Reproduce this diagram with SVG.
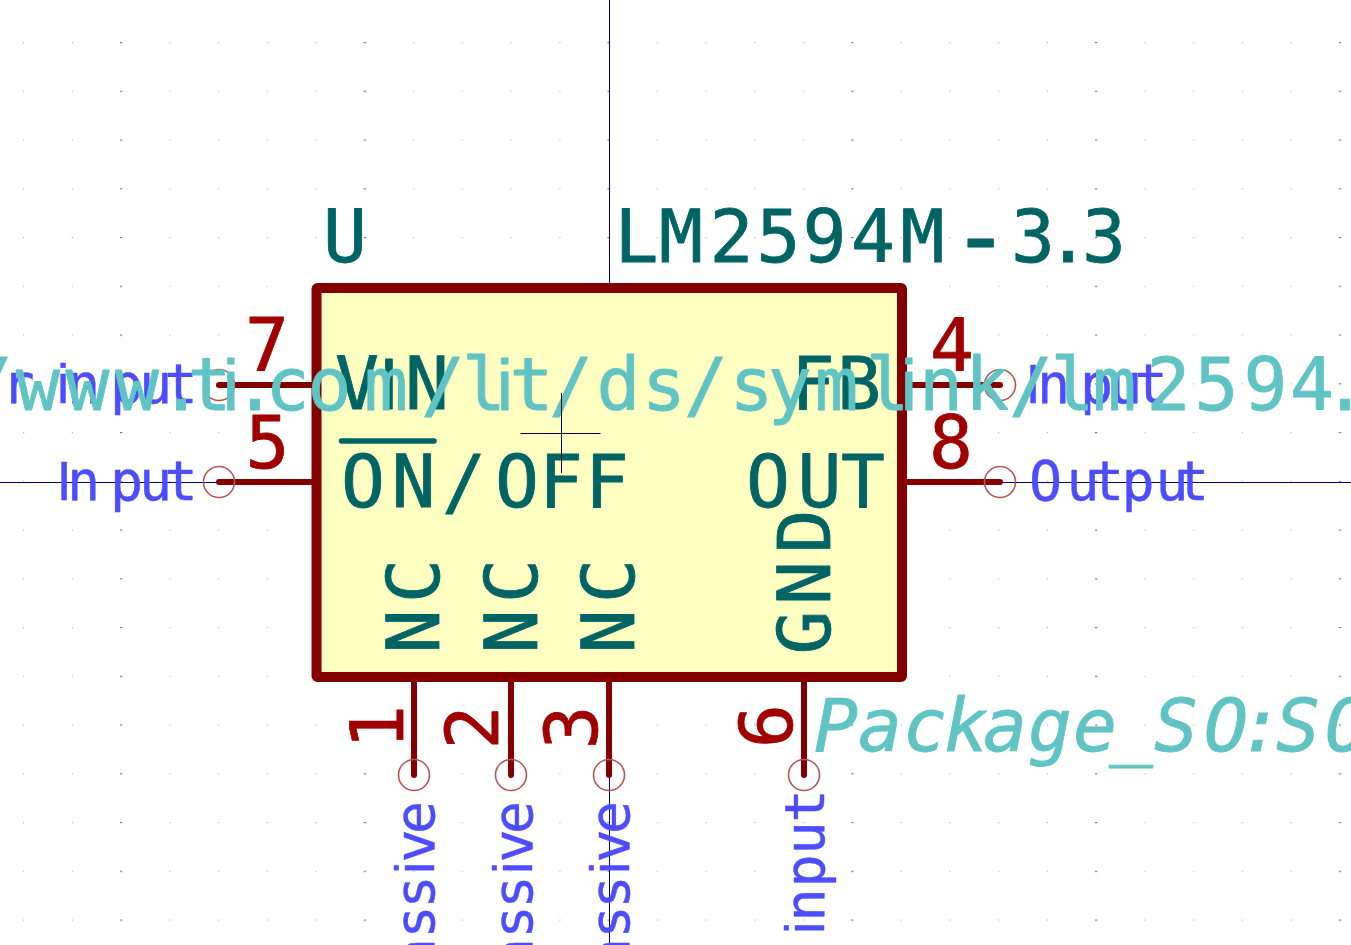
<svg xmlns="http://www.w3.org/2000/svg" width="1351" height="945" viewBox="0 0 1351 945">
<style>
text{font-family:"DejaVu Sans Mono","Liberation Mono",monospace;stroke-linejoin:round;paint-order:stroke}
.ref,.pn{fill:#006464;stroke:#006464;stroke-width:.8;font-size:73px}
.num{fill:#A00000;stroke:#A00000;stroke-width:.8;font-size:73px}
.typ{fill:#4D4DFF;stroke:#4D4DFF;stroke-width:.4;font-size:55px}
.fld{fill:#60C4C4;stroke:#60C4C4;stroke-width:.8;font-size:73px}
.s{font-family:"Liberation Sans",sans-serif}
.pin{stroke:#840000;stroke-width:6;stroke-linecap:round;fill:none}
.end{stroke:#B25458;stroke-width:1.6;fill:none}
.axis{stroke:#000084;stroke-width:1;fill:none}
.cross{stroke:#000;stroke-width:1;fill:none}
</style>
<defs>
<pattern id="grid" patternUnits="userSpaceOnUse" x="23" y="42" width="243.75" height="48.75">
<rect x="0" y="0" width="1.2" height="1.2" fill="#bbb"/>
<rect x="48.75" y="0" width="1.2" height="1.2" fill="#bbb"/>
<rect x="97" y="0" width="2.2" height="1.2" fill="#777"/>
<rect x="146.25" y="0" width="1.2" height="1.2" fill="#bbb"/>
<rect x="195" y="0" width="1.2" height="1.2" fill="#bbb"/>
</pattern>
</defs>
<rect id="background" width="1351" height="945" fill="#fff"/>
<rect id="grid-dots" width="1351" height="945" fill="url(#grid)"/>
<g id="axes">
<path class="axis" d="M609.5 0V945M0 482.5H1351"/>
</g>
<g id="U1-body">
<rect x="316.5" y="288" width="585.5" height="389" rx="1" fill="#FFFFC2" stroke="#840000" stroke-width="10" stroke-linejoin="round"/>
</g>
<g id="connectors">
<path class="pin" d="M316 385H219"/>
<path class="pin" d="M316 482H219"/>
<path class="pin" d="M902 385H1000"/>
<path class="pin" d="M902 482H1000"/>
<path class="pin" d="M414 677V775"/>
<path class="pin" d="M511 677V775"/>
<path class="pin" d="M609 677V775"/>
<path class="pin" d="M804 677V775"/>
<circle class="end" cx="219" cy="385" r="15.5"/>
<circle class="end" cx="219" cy="482" r="15.5"/>
<circle class="end" cx="1000" cy="385" r="15.5"/>
<circle class="end" cx="1000" cy="482" r="15.5"/>
<circle class="end" cx="414" cy="775" r="15.5"/>
<circle class="end" cx="511" cy="775" r="15.5"/>
<circle class="end" cx="609" cy="775" r="15.5"/>
<circle class="end" cx="804" cy="775" r="15.5"/>
</g>
<g id="reference"><text class="ref" x="323" y="262">U</text></g>
<g id="value"><text class="ref" x="614.5 659 709.5 756.5 802.5 851 900.5" y="262">LM2594M<tspan font-size="100" x="950.5" dy="8">-</tspan><tspan x="1011 1046 1082" dy="-8">3.3</tspan></text></g>
<g id="pin7">
<text class="num" x="245" y="370">7</text>
<text class="pn" x="335" y="409">V<tspan class="s" x="378.7">I</tspan><tspan x="405">N</tspan></text>
<text class="typ" x="1.5 30" y="403">r <tspan class="s" x="56.9">i</tspan><tspan x="67 110 139 164.5">nput</tspan></text>
</g>
<g id="pin5">
<text class="num" x="245.5" y="468">5</text>
<text class="pn" x="341 391.5 442 495 539 585" y="507">ON/OFF</text>
<path d="M341.5 441H434" stroke="#006464" stroke-width="5.5" stroke-linecap="round"/>
<text class="typ" y="500"><tspan class="s" x="56.4">I</tspan><tspan x="67 110 139 164.5">nput</tspan></text>
</g>
<g id="pin4">
<text class="num" x="930" y="371">4</text>
<text class="pn" x="791 837" y="409">FB</text>
<text class="typ" y="403"><tspan class="s" x="1025.4">I</tspan><tspan x="1037 1080 1109 1134.5">nput</tspan></text>
</g>
<g id="pin8">
<text class="num" x="929" y="468">8</text>
<text class="pn" x="746 797.5 841" y="507">OUT</text>
<text class="typ" x="1029 1066.5 1091 1121.5 1155.5 1176" y="500">Output</text>
</g>
<g id="pin1">
<text class="num" transform="translate(403 0) rotate(-90)" x="-749" y="0">1</text>
<text class="pn" transform="translate(439 0) rotate(-90)" x="-653.5 -603" y="0">NC</text>
<text class="typ" transform="translate(434 0) rotate(-90)" x="-971.5 -938.5 -908.5" y="0">ass<tspan class="s" x="-874.1">i</tspan><tspan x="-862.5 -834">ve</tspan></text>
</g>
<g id="pin2">
<text class="num" transform="translate(498 0) rotate(-90)" x="-749.5" y="0">2</text>
<text class="pn" transform="translate(537 0) rotate(-90)" x="-653.5 -603" y="0">NC</text>
<text class="typ" transform="translate(532 0) rotate(-90)" x="-971.5 -938.5 -908.5" y="0">ass<tspan class="s" x="-874.1">i</tspan><tspan x="-862.5 -834">ve</tspan></text>
</g>
<g id="pin3">
<text class="num" transform="translate(597 0) rotate(-90)" x="-749.5" y="0">3</text>
<text class="pn" transform="translate(634 0) rotate(-90)" x="-653.5 -603" y="0">NC</text>
<text class="typ" transform="translate(629 0) rotate(-90)" x="-971.5 -938.5 -908.5" y="0">ass<tspan class="s" x="-874.1">i</tspan><tspan x="-862.5 -834">ve</tspan></text>
</g>
<g id="pin6">
<text class="num" transform="translate(792 0) rotate(-90)" x="-748" y="0">6</text>
<text class="pn" transform="translate(830 0) rotate(-90)" x="-654.5 -605 -553.5" y="0">GND</text>
<text class="typ" transform="translate(824 0) rotate(-90)" y="0"><tspan class="s" x="-934">i</tspan><tspan x="-921.5 -887.5 -854.5 -822.5">nput</tspan></text>
</g>
<g id="footprint"><text class="fld" x="814 858 903 944 983 1028 1073 1109 1154 1204 1239 1276 1325" y="751" style="font-style:italic">Package_SO:SO</text></g>
<g id="datasheet"><text class="fld" x="-31 16 65.5 115 159 187.5" y="410">/www.t<tspan class="s" x="222.8">i</tspan><tspan x="233 265.5 307.5 364 421 462">.com/l</tspan><tspan class="s" x="496.8">i</tspan><tspan x="509.5 549 596.5 642 684 729.5 768 814.5 865.5">t/ds/syml</tspan><tspan class="s" x="900.8">i</tspan><tspan x="919 965 1009 1050.5 1092.5 1146.5 1194.5 1243.5 1290 1323">nk/lm2594.</tspan></text></g>
<g id="cursor">
<path class="cross" d="M520.5 433.5H600.5M561.5 393V473"/>
</g>
</svg>
